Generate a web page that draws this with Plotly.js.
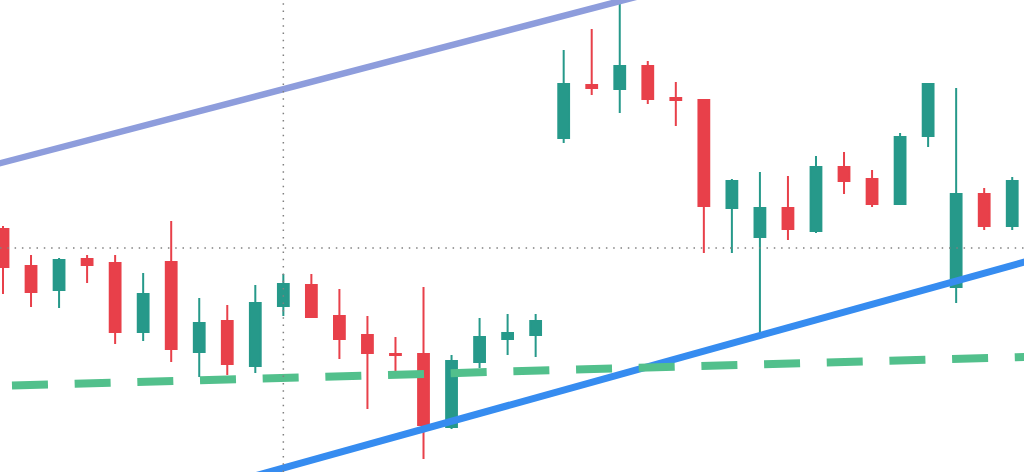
<!DOCTYPE html>
<html>
<head>
<meta charset="utf-8">
<script src="https://cdn.plot.ly/plotly-3.0.1.min.js"></script>
<style>
  html, body { margin: 0; padding: 0; background: #ffffff; }
  #chart { width: 1024px; height: 472px; }
</style>
</head>
<body>
<div id="chart"></div>
<script>
// Session index of each candle
const sessions = [0, 1, 2, 3, 4, 5, 6, 7, 8, 9, 10, 11, 12, 13, 14, 15, 16, 17, 18,
                  19, 20, 21, 22, 23, 24, 25, 26, 27, 28, 29, 30, 31, 32, 33, 34, 35, 36];
const opens  = [124.3, 120.6, 118.2, 121.3, 120.9, 114.0, 121.0, 112.0, 115.1, 110.6,
                116.6, 118.7, 115.6, 113.7, 111.8, 111.8, 104.5, 111.0, 113.3, 113.7,
                133.4, 138.7, 138.3, 140.6, 137.4, 137.2, 126.4, 123.5, 126.4, 124.1,
                130.5, 129.3, 126.8, 133.6, 118.5, 127.8, 124.6];
const highs  = [124.6, 121.7, 121.4, 121.7, 121.7, 119.9, 125.1, 117.4, 116.7, 118.7,
                119.8, 119.8, 118.3, 115.6, 113.5, 118.5, 111.7, 115.4, 115.8, 115.8,
                142.2, 144.3, 147.9, 141.1, 139.0, 137.3, 129.3, 130.0, 129.6, 131.6,
                132.0, 130.2, 133.9, 138.8, 138.4, 128.4, 129.5];
const lows   = [117.8, 116.5, 116.4, 118.9, 112.8, 113.1, 111.0, 109.5, 109.7, 109.9,
                115.6, 115.5, 111.3, 106.3, 110.1, 101.3, 104.3, 110.4, 111.7, 111.5,
                132.9, 137.7, 135.9, 136.8, 134.6, 121.9, 121.9, 113.9, 123.2, 123.9,
                127.8, 126.5, 126.8, 132.5, 116.9, 124.2, 124.2];
const closes = [120.5, 118.0, 121.2, 120.7, 114.0, 117.8, 112.3, 114.9, 110.8, 116.9,
                118.8, 115.5, 113.3, 111.9, 111.7, 104.7, 111.1, 113.5, 113.9, 115.1,
                138.8, 138.4, 140.6, 137.3, 137.2, 126.6, 129.1, 126.4, 124.3, 130.5,
                129.1, 126.8, 133.5, 138.8, 127.8, 124.6, 129.1];

// Drawn trend lines: [session, price] endpoints
const upperChannelX = [-1, 24];
const upperChannelY = [130.22, 148.55];
const lowerTrendX   = [8, 37];
const lowerTrendY   = [98.84, 121.44];
const supportX      = [0.32, 37];
const supportY      = [108.65, 111.55];

// Crosshair position
const crossX = 10;
const crossY = 122.4;

const upColor = '#26998a';
const downColor = '#e8404a';

const traces = [
  {
    type: 'candlestick',
    x: sessions, open: opens, high: highs, low: lows, close: closes,
    increasing: { line: { color: upColor, width: 2 }, fillcolor: upColor },
    decreasing: { line: { color: downColor, width: 2 }, fillcolor: downColor },
    whiskerwidth: 0,
    hoverinfo: 'skip',
    showlegend: false
  },
  {
    type: 'scatter', mode: 'lines',
    x: upperChannelX, y: upperChannelY,
    line: { color: '#8e9ddc', width: 6.5 },
    hoverinfo: 'skip', showlegend: false
  },
  {
    type: 'scatter', mode: 'lines',
    x: lowerTrendX, y: lowerTrendY,
    line: { color: '#368cf0', width: 7 },
    hoverinfo: 'skip', showlegend: false
  },
  {
    type: 'scatter', mode: 'lines',
    x: supportX, y: supportY,
    line: { color: '#52c08c', width: 8, dash: '36px,26.7px' },
    hoverinfo: 'skip', showlegend: false
  }
];

const layout = {
  width: 1024, height: 472,
  margin: { l: 0, r: 0, t: 0, b: 0, pad: 0 },
  paper_bgcolor: '#ffffff',
  plot_bgcolor: '#ffffff',
  showlegend: false,
  boxgap: 0.45,
  xaxis: {
    range: [-0.107, 36.42],
    visible: false, showgrid: false, zeroline: false,
    rangeslider: { visible: false },
    fixedrange: true
  },
  yaxis: {
    range: [100, 147.2],
    visible: false, showgrid: false, zeroline: false,
    fixedrange: true
  },
  shapes: [
    { type: 'line', xref: 'x', yref: 'paper', x0: crossX, x1: crossX, y0: 0, y1: 1,
      line: { color: '#808080', width: 1.5, dash: '1.5px,5.8px' } },
    { type: 'line', xref: 'paper', yref: 'y', x0: 0, x1: 1, y0: crossY, y1: crossY,
      line: { color: '#808080', width: 1.5, dash: '1.5px,5.8px' } }
  ]
};

Plotly.newPlot('chart', traces, layout, { staticPlot: true, displayModeBar: false });
</script>
</body>
</html>
